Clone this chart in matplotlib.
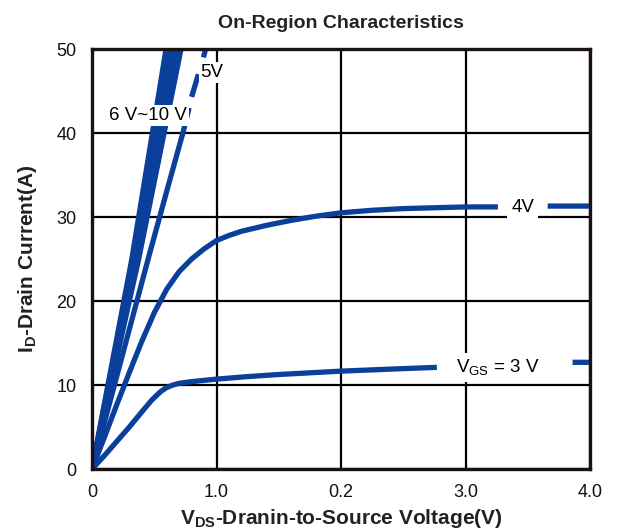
import numpy as np
import matplotlib
matplotlib.use('Agg')
import matplotlib.pyplot as plt

plt.rcParams['font.family'] = ['Liberation Sans', 'DejaVu Sans']
plt.rcParams['mathtext.fontset'] = 'custom'
plt.rcParams['mathtext.rm'] = 'Liberation Sans'
plt.rcParams['mathtext.bf'] = 'Liberation Sans:bold'

nan = np.nan

# VGS = 3 V (broken where the label sits)
x_3v = [0, 0.1, 0.2, 0.3, 0.4, 0.48, 0.55, 0.6, 0.65, 0.7, 0.8, 0.9, 1.0, 1.25, 1.5, 1.75,
        2.0, 2.25, 2.5, 2.77, nan, 3.86, 4.0]
y_3v = [0, 1.6, 3.3, 5.0, 6.8, 8.2, 9.2, 9.7, 10.0, 10.2, 10.4, 10.55, 10.7, 11.0, 11.25, 11.45,
        11.65, 11.8, 11.95, 12.1, nan, 12.7, 12.7]

# VGS = 4 V
x_4v = [0, 0.1, 0.2, 0.3, 0.4, 0.5, 0.6, 0.7, 0.8, 0.9, 1.0, 1.1, 1.2, 1.4, 1.6, 1.8,
        2.0, 2.25, 2.5, 2.75, 3.0, 3.26, nan, 3.66, 4.0]
y_4v = [0, 3.8, 7.7, 11.5, 15.2, 18.6, 21.4, 23.5, 25.0, 26.2, 27.2, 27.8, 28.3, 29.0, 29.6, 30.1,
        30.5, 30.8, 31.0, 31.1, 31.2, 31.2, nan, 31.3, 31.3]

# VGS = 5 V (dashed near the top)
x_5v = [0, 0.18, 0.46, 0.625, 0.73, 0.78, nan, 0.80, 0.855, nan, 0.895, 0.93]
y_5v = [0, 10.0, 25.5, 34.4, 40.0, 43.0, nan, 44.3, 47.0, nan, 49.0, 51.0]

# VGS = 6 V ~ 10 V
x_6_10v = [[0, 0.375, 0.715],
           [0, 0.36, 0.685],
           [0, 0.35, 0.655],
           [0, 0.335, 0.625],
           [0, 0.32, 0.595]]
y_6_10v = [0, 25, 50]

x_ticks = [0, 1, 2, 3, 4]
x_tick_labels = ['0', '1.0', '0.2', '3.0', '4.0']
y_ticks = [0, 10, 20, 30, 40, 50]

blue = '#0b3f9c'
lw = 3.8

fig = plt.figure(figsize=(6.22, 5.31), dpi=100)
ax = fig.add_axes([92 / 622, 62 / 531, 498 / 622, 420 / 531])

for xs in x_6_10v:
    ax.plot(xs, y_6_10v, color=blue, lw=lw, solid_capstyle='butt', zorder=3)
ax.plot(x_5v, y_5v, color=blue, lw=lw, solid_capstyle='butt', zorder=3)
ax.plot(x_4v, y_4v, color=blue, lw=lw, solid_capstyle='butt', zorder=3)
ax.plot(x_3v, y_3v, color=blue, lw=lw, solid_capstyle='butt', zorder=3)

ax.set_xlim(0, 4)
ax.set_ylim(0, 50)
ax.set_xticks(x_ticks)
ax.set_xticklabels(x_tick_labels)
ax.set_yticks(y_ticks)
ax.tick_params(length=0, labelsize=13, colors='#111111')
ax.tick_params(axis='x', pad=11)
ax.tick_params(axis='y', pad=11)
ax.grid(True, color='black', lw=1.6, zorder=1)
ax.set_axisbelow(True)
for s in ax.spines.values():
    s.set_linewidth(2.4)
    s.set_color('#1a1111')
    s.set_zorder(5)

box = dict(facecolor='white', edgecolor='none', pad=1.5)
ax.text(0.45, 42.1, '6 V~10 V', fontsize=13.5, ha='center', va='center', bbox=box, zorder=4)
ax.text(0.965, 47.2, '5V', fontsize=13.5, ha='center', va='center', bbox=box, zorder=4)
ax.text(3.46, 31.1, '4V', fontsize=13.5, ha='center', va='center',
        bbox=dict(facecolor='white', edgecolor='none', pad=3), zorder=4)
ax.text(3.26, 12.1, r'V$_{\rm GS}$ = 3 V', fontsize=13.5, ha='center', va='center',
        bbox=dict(facecolor='white', edgecolor='none', pad=3), zorder=4)

ax.set_title('On-Region Characteristics', fontsize=14, fontweight='bold', color='#222222', pad=15)
ax.set_xlabel(r'V$_{\mathbf{DS}}$-Dranin-to-Source Voltage(V)', fontsize=15, fontweight='bold',
              color='#222222', labelpad=4)
ax.set_ylabel(r'I$_{\mathbf{D}}$-Drain Current(A)', fontsize=15, fontweight='bold', color='#222222', labelpad=13)

fig.savefig('out.png', dpi=100)
